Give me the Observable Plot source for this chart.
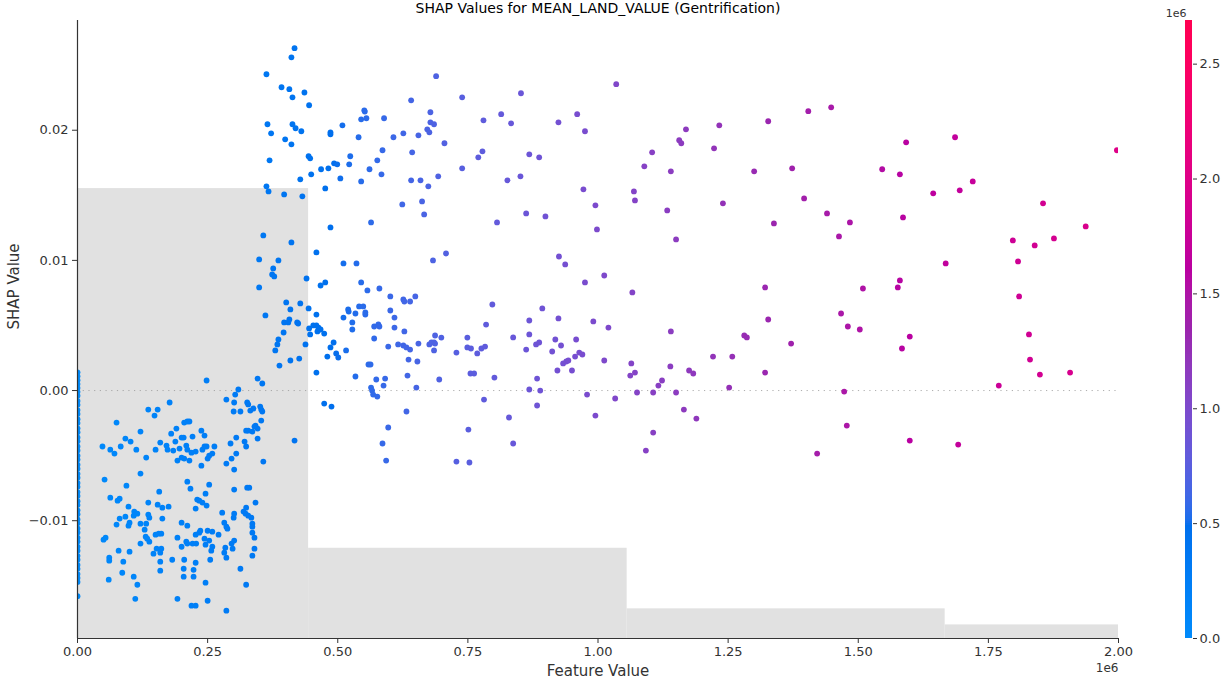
<!DOCTYPE html>
<html>
<head>
<meta charset="utf-8">
<script src="https://cdn.jsdelivr.net/npm/d3@7"></script>
<script src="https://cdn.jsdelivr.net/npm/@observablehq/plot@0.6"></script>
<style>
  body { margin: 0; background: #fff; }
  #chart { position: relative; width: 1223px; height: 679px; font-family: "DejaVu Sans", sans-serif; }
  #chart svg { position: absolute; top: 0; }
</style>
</head>
<body>
<div id="chart"></div>
<script>
// ---- text ----
const title = "SHAP Values for MEAN_LAND_VALUE (Gentrification)";
const xLabel = "Feature Value";
const yLabel = "SHAP Value";
const offsetLabel = "1e6";

// ---- axes ----
const xDomain = [0, 2000000];
const yDomain = [-0.01905, 0.02843];
const xTicks = [0, 250000, 500000, 750000, 1000000, 1250000, 1500000, 1750000, 2000000];
const yTicks = [-0.01, 0, 0.01, 0.02];
const colorMax = 2690000;
const colorTicks = [0, 500000, 1000000, 1500000, 2000000, 2500000];

// ---- histogram of the feature (background) ----
const binEdgesK = [-167, 444, 1056, 1667, 2278];
const binCounts = [364, 73, 24, 11];
const sampleCount = 500;

// ---- SHAP values of records with a land value of 0 ----
const shapAtZero = [0.0014, 0.0011, 0.0008, 0.0005, 0.0002, -0.0001, -0.0004, -0.0008, -0.0011, -0.0015,
  -0.0018, -0.0022, -0.0025, -0.0029, -0.0032, -0.0036, -0.0039, -0.0043, -0.0046, -0.005,
  -0.0053, -0.0057, -0.006, -0.0064, -0.0067, -0.0071, -0.0074, -0.0078, -0.0081, -0.0085,
  -0.0088, -0.0092, -0.0095, -0.0099, -0.0102, -0.0106, -0.0109, -0.0113, -0.0116, -0.012,
  -0.0123, -0.0127, -0.013, -0.0134, -0.0137, -0.0141, -0.0144, -0.0147, -0.0158];

// ---- [mean land value in thousands, SHAP value] ----
const lowValueNegative = [
  [326,-0.00092],[328,-0.00107],[332,-0.00154],[338,-0.00138],[351,-0.00123],[353,-0.00146],[355,-0.00161],[313,-0.00161],[353,-0.00231],[328,-0.00308],
  [336,-0.00315],[340,-0.00277],[346,-0.00292],[346,-0.00369],[321,-0.00392],[324,-0.0043],[417,-0.00384],[357,-0.00546],
  [248,0.00077],[177,-0.00092],[136,-0.00146],[154,-0.00146],[148,-0.00192],[75,-0.00246],[121,-0.00315],[48,-0.0043],[63,-0.00454],[71,-0.00484],
  [83,-0.0043],[92,-0.00369],[102,-0.00392],[113,-0.00454],[132,-0.00515],[150,-0.00454],[159,-0.004],[171,-0.00423],[173,-0.00454],[180,-0.00331],
  [190,-0.00292],[188,-0.00392],[184,-0.00461],[192,-0.00538],[196,-0.00446],[200,-0.00515],[200,-0.00361],[204,-0.00361],[205,-0.00246],[211,-0.00238],
  [215,-0.00238],[209,-0.00423],[211,-0.00454],[205,-0.00523],[215,-0.00538],[219,-0.00477],[227,-0.00469],[221,-0.00354],[238,-0.00308],[244,-0.00346],
  [240,-0.00454],[244,-0.0043],[248,-0.0043],[250,-0.00523],[253,-0.005],[259,-0.00484],[263,-0.0043],[238,-0.00577],[286,-0.00069],[303,-0.00031],
  [309,0.00008],[301,-0.00092],[300,-0.00161],[294,-0.00407],[305,-0.00361],[286,-0.00561],[296,-0.00523],[305,-0.00484],[301,-0.00607],[324,-0.00308],
  [342,-0.00269],
  [52,-0.00684],[94,-0.00731],[63,-0.00823],[77,-0.00846],[81,-0.00831],[121,-0.00638],[157,-0.00777],[98,-0.00892],[109,-0.0093],[108,-0.00961],
  [115,-0.00946],[92,-0.00969],[100,-0.01015],[98,-0.01038],[81,-0.00984],[75,-0.0103],[121,-0.01023],[132,-0.01023],[129,-0.01069],[136,-0.00861],
  [136,-0.00953],[138,-0.00977],[154,-0.00877],[163,-0.009],[175,-0.00892],[163,-0.00984],[156,-0.011],[121,-0.01176],[131,-0.01123],[134,-0.01138],
  [138,-0.01161],[150,-0.01107],[161,-0.011],[152,-0.01215],[161,-0.01215],[159,-0.01246],[146,-0.01253],[159,-0.01315],[159,-0.01384],[182,-0.013],
  [50,-0.01146],[54,-0.0113],[79,-0.0123],[61,-0.01284],[61,-0.01307],[88,-0.01315],[86,-0.014],[60,-0.01453],[100,-0.01238],[108,-0.0143],
  [115,-0.01492],[111,-0.016],[192,-0.016],[200,-0.01015],[211,-0.01038],[192,-0.0113],[200,-0.012],[209,-0.01161],[211,-0.01176],[221,-0.01176],
  [228,-0.01176],[205,-0.013],[204,-0.01369],[204,-0.0143],[223,-0.01377],[223,-0.0143],[227,-0.01323],[219,-0.01653],[227,-0.01653],[250,-0.01615],
  [246,-0.01476],[234,-0.01092],[236,-0.01077],[244,-0.01138],[250,-0.01077],[259,-0.01084],[253,-0.01153],[259,-0.012],[257,-0.0123],[246,-0.01184],
  [255,-0.013],[227,-0.01107],[246,-0.00792],[253,-0.00723],[211,-0.007],[217,-0.00754],[227,-0.00907],[230,-0.00838],[234,-0.00846],[240,-0.00861],
  [248,-0.00884],[271,-0.01107],[278,-0.00938],[282,-0.01015],[286,-0.01046],[288,-0.01061],[301,-0.00946],[300,-0.00977],[284,-0.01207],[282,-0.01246],
  [286,-0.01284],[296,-0.01176],[301,-0.01153],[298,-0.01215],[313,-0.01369],[286,-0.01691],[324,-0.01492],[319,-0.0093],[323,-0.00946],[328,-0.00961],
  [324,-0.009],[334,-0.00977],[336,-0.01023],[336,-0.01046],[336,-0.01092],[340,-0.0113],[340,-0.01215],[336,-0.01269],[342,-0.00861],[301,-0.00761],
  [326,-0.00746],[330,-0.00746]
];

const midValueUpper = [
  [417,0.0263],[411,0.0256],[363,0.0243],[689,0.02415],[392,0.0233],[407,0.02315],[436,0.0229],[413,0.02253],[739,0.02253],[641,0.0223],
  [445,0.02192],[551,0.02153],[552,0.02143],[678,0.02138],[545,0.02084],[555,0.02092],[589,0.02092],[678,0.02061],[685,0.02046],[780,0.02076],
  [365,0.02046],[413,0.02046],[419,0.02015],[430,0.01992],[509,0.02038],[486,0.01984],[486,0.01969],[672,0.02007],[676,0.01984],[626,0.01976],
  [655,0.01961],[607,0.01946],[540,0.01946],[372,0.01976],[399,0.0193],[411,0.01892],[705,0.019],[643,0.0183],[586,0.01846],[778,0.01838],
  [770,0.01792],[369,0.01769],[444,0.018],[447,0.01784],[524,0.018],[576,0.01769],[493,0.01746],[499,0.01738],[522,0.01738],[482,0.01707],
  [468,0.017],[561,0.017],[739,0.01707],[449,0.01661],[584,0.01661],[693,0.01646],[428,0.01623],[505,0.0163],[641,0.01615],[659,0.01615],
  [545,0.01607],[674,0.01569],[363,0.01569],[367,0.0153],[397,0.01507],[432,0.01492],[476,0.01553],[662,0.01453],[624,0.0143],[666,0.01353],
  [564,0.01292],[486,0.01253],[357,0.01192],[411,0.01138],[459,0.01061],[708,0.01053],[349,0.01007],[386,0.01],[683,0.01],[511,0.00977],
  [536,0.00977],[376,0.00938]
];

const midValueLower = [
  [374,0.00892],[378,0.00877],[349,0.00792],[440,0.00861],[467,0.00807],[476,0.00831],[545,0.00831],[580,0.00784],[557,0.00769],[601,0.00723],
  [626,0.007],[628,0.00684],[639,0.00684],[649,0.00723],[401,0.00677],[428,0.00669],[409,0.00623],[444,0.00631],[361,0.00577],[459,0.00584],
  [520,0.00623],[521,0.00607],[541,0.00646],[549,0.00646],[534,0.00592],[553,0.006],[553,0.00584],[511,0.00561],[601,0.00615],[609,0.00561],
  [407,0.00546],[397,0.00523],[405,0.00523],[422,0.00523],[424,0.00515],[528,0.00523],[570,0.00492],[578,0.00508],[580,0.00492],[609,0.00484],
  [528,0.00469],[445,0.00477],[453,0.005],[459,0.005],[463,0.00484],[467,0.00469],[461,0.00454],[447,0.00431],[474,0.00438],[396,0.00446],
  [628,0.00454],[386,0.00392],[384,0.00354],[380,0.00308],[570,0.004],[492,0.00369],[486,0.00331],[438,0.00354],[597,0.00338],[616,0.00354],
  [626,0.00346],[632,0.00331],[639,0.00315],[655,0.00361],[676,0.00354],[680,0.00369],[685,0.00369],[687,0.00423],[687,0.00361],[699,0.00407],
  [685,0.00308],[516,0.00308],[497,0.00285],[501,0.00254],[480,0.00261],[409,0.00231],[426,0.00246],[388,0.00192],[636,0.00238],[653,0.00223],
  [559,0.002],[563,0.002],[749,0.00407],[749,0.00331],[756,0.00323],[728,0.00292],[768,0.00285],[776,0.00323],[783,0.00338],[785,0.00507],
  [459,0.00138],[534,0.00108],[346,0.00092],[355,0.00054],[574,0.00085],[591,0.00092],[588,0.00038],[634,0.00115],[695,0.00085],[651,0.00023],
  [755,0.00131],[762,0.00131],[564,0.00023],[566,0.0],[568,-0.00031],[576,-0.00046],[781,-0.00069],[474,-0.001],[488,-0.00123],[632,-0.00161],
  [597,-0.00284],[586,-0.00407],[593,-0.00538],[751,-0.003],[728,-0.00546],[753,-0.00553]
];

const upperMidValue = [
  [1035,0.02354],[852,0.02284],[814,0.02123],[833,0.02053],[924,0.02061],[960,0.02123],[975,0.01992],[1169,0.02007],[1233,0.02038],[1327,0.02069],
  [1156,0.01923],[1160,0.019],[1104,0.0183],[1223,0.01861],[868,0.01815],[887,0.01792],[1089,0.01723],[1140,0.01684],[1300,0.01684],[1373,0.01707],
  [826,0.01615],[851,0.01646],[972,0.01546],[1069,0.0153],[1071,0.01461],[995,0.01423],[1133,0.01384],[1240,0.01438],[862,0.01361],[899,0.01338],
  [806,0.01292],[998,0.01238],[1338,0.01284],[1150,0.01161],[925,0.0103],[937,0.00969],[1012,0.00884],[975,0.00831],[1066,0.00754],[1321,0.00792],
  [1327,0.00546],[797,0.00661],[893,0.00631],[868,0.00538],[924,0.00554],[991,0.00531],[1020,0.00484],[1140,0.00454],[837,0.00408],[868,0.00431],
  [881,0.00354],[887,0.00369],[862,0.00315],[918,0.00392],[958,0.00392],[929,0.00346],[912,0.003],[964,0.00292],[970,0.00277],[956,0.00261],
  [933,0.00208],[939,0.00223],[943,0.00231],[922,0.00154],[950,0.00154],[1012,0.00231],[801,0.001],[868,0.00008],[889,0.0],[883,0.00092],
  [883,-0.00115],[979,-0.00031],[1033,-0.00061],[995,-0.00192],[829,-0.00207],[837,-0.00407],[1064,0.00208],[1062,0.00115],[1071,0.00138],[1075,-0.00015],
  [1106,-0.00015],[1116,0.00038],[1123,0.00077],[1150,-0.00015],[1139,0.00185],[1175,0.00154],[1183,0.00131],[1165,-0.00146],[1189,-0.00215],[1106,-0.00323],
  [1092,-0.00461],[1221,0.00261],[1258,0.00261],[1252,0.00023],[1281,0.00423],[1286,0.00408],[1321,0.00138],[1371,0.00361]
];

const highValue = [
  [1404,0.02146],[1448,0.02176],[1592,0.01907],[1686,0.01946],[1997,0.01846],[1546,0.017],[1580,0.01661],[1644,0.01515],[1695,0.01538],[1720,0.01607],
  [1396,0.01476],[1440,0.01361],[1484,0.01292],[1463,0.01184],[1586,0.0133],[1855,0.01438],[1937,0.01261],[1797,0.01153],[1839,0.01115],[1876,0.01169],
  [1807,0.00992],[1668,0.00977],[1580,0.00846],[1576,0.00792],[1509,0.00784],[1809,0.00723],[1467,0.00592],[1480,0.00492],[1503,0.00469],[1599,0.00415],
  [1584,0.00323],[1828,0.00431],[1830,0.00238],[1849,0.00123],[1907,0.00138],[1770,0.00038],[1473,-0.00008],[1478,-0.00269],[1599,-0.00384],[1692,-0.00415],
  [1421,-0.00484]
];

// ---- build tables ----
const fromPairs = pairs => pairs.map(([k, s]) => ({value: k * 1000, shap: s}));
const records = [
  ...shapAtZero.map(s => ({value: 0, shap: s})),
  ...fromPairs(lowValueNegative),
  ...fromPairs(midValueUpper),
  ...fromPairs(midValueLower),
  ...fromPairs(upperMidValue),
  ...fromPairs(highValue)
];

const bins = binCounts.map((count, i) => ({
  x1: binEdgesK[i] * 1000,
  x2: binEdgesK[i + 1] * 1000,
  top: yDomain[0] + (count / sampleCount) * (yDomain[1] - yDomain[0])
}));

// LCh (D65) -> sRGB, channels clipped to gamut
function lchToRgb(l, c, h) {
  const a = c * Math.cos(h), b = c * Math.sin(h);
  const fy = (l + 16) / 116, fx = fy + a / 500, fz = fy - b / 200;
  const finv = t => (t > 6 / 29 ? t * t * t : (t - 16 / 116) / 7.787);
  const X = 0.95047 * finv(fx), Y = finv(fy), Z = 1.08883 * finv(fz);
  const lin = [
    3.2404542 * X - 1.5371385 * Y - 0.4985314 * Z,
    -0.969266 * X + 1.8760108 * Y + 0.041556 * Z,
    0.0556434 * X - 0.2040259 * Y + 1.0572252 * Z
  ];
  const gam = v => (v > 0.0031308 ? 1.055 * Math.pow(v, 1 / 2.4) - 0.055 : 12.92 * v);
  const [r, g, bl] = lin.map(v => Math.round(255 * Math.min(1, Math.max(0, gam(v)))));
  return `rgb(${r},${g},${bl})`;
}

// blue -> purple -> red: lightness dips in the middle, hue sweeps through violet
const blueLch = [54, 70, 4.6588];
const midLightness = 40;
const redLch = [54, 90, 0.35470565 + 2 * Math.PI];
function redBlue(t) {
  const l = t < 0.5 ? blueLch[0] + (midLightness - blueLch[0]) * (t / 0.5)
                    : midLightness + (redLch[0] - midLightness) * ((t - 0.5) / 0.5);
  const c = blueLch[1] + (redLch[1] - blueLch[1]) * t;
  const h = blueLch[2] + (redLch[2] - blueLch[2]) * t;
  return lchToRgb(l, c, h);
}
const colorScale = {type: "linear", domain: [0, colorMax], interpolate: redBlue};

const axisColor = "#333333";
const font = "'DejaVu Sans', sans-serif";

const main = Plot.plot({
  width: 1223,
  height: 679,
  marginLeft: 77,
  marginRight: 105,
  marginTop: 20,
  marginBottom: 41,
  style: {fontFamily: font, fontSize: "13px", color: axisColor, background: "transparent", overflow: "visible"},
  x: {domain: xDomain},
  y: {domain: yDomain},
  color: colorScale,
  marks: [
    Plot.rect(bins, {x1: "x1", x2: "x2", y1: yDomain[0], y2: "top", fill: "#e1e1e1", clip: true}),
    Plot.ruleY([0], {stroke: "#999999", strokeWidth: 0.8, strokeDasharray: "1.2,4.5"}),
    Plot.dot(records, {x: "value", y: "shap", fill: "value", r: 2.9, clip: true}),
    Plot.axisX({ticks: xTicks, tickFormat: d => (d / 1e6).toFixed(2), tickSize: 5, tickPadding: 3, label: null, fontSize: 13}),
    Plot.axisY({ticks: yTicks, tickFormat: d3.format(".2f"), tickSize: 5, tickPadding: 4, label: null, fontSize: 13}),
    Plot.ruleX([xDomain[0]], {stroke: axisColor, strokeWidth: 1.2}),
    Plot.ruleY([yDomain[0]], {stroke: axisColor, strokeWidth: 1.2}),
    Plot.text([title], {frameAnchor: "top", dy: -17, fontSize: 14, fill: "#000000"}),
    Plot.text([xLabel], {frameAnchor: "bottom", dy: 37, fontSize: 15}),
    Plot.text([yLabel], {frameAnchor: "left", dx: -63, rotate: -90, fontSize: 15}),
    Plot.text([offsetLabel], {frameAnchor: "bottom-right", dy: 33, textAnchor: "end", fontSize: 12})
  ]
});
main.style.left = "0px";

// colour bar
const stepCount = 300;
const stops = d3.range(stepCount).map(i => ({
  y1: (i * colorMax) / stepCount,
  y2: ((i + 1) * colorMax) / stepCount,
  v: ((i + 0.5) * colorMax) / stepCount
}));

const bar = Plot.plot({
  width: 73,
  height: 679,
  marginLeft: 35,
  marginRight: 31,
  marginTop: 20,
  marginBottom: 41,
  style: {fontFamily: font, fontSize: "13px", color: axisColor, background: "transparent", overflow: "visible"},
  x: {domain: [0, 1], axis: null},
  y: {domain: [0, colorMax]},
  color: colorScale,
  marks: [
    Plot.rect(stops, {x1: 0, x2: 1, y1: "y1", y2: "y2", fill: "v", shapeRendering: "crispEdges"}),
    Plot.axisY({anchor: "right", ticks: colorTicks, tickFormat: d => (d / 1e6).toFixed(1), tickSize: 4, tickPadding: 3, label: null, fontSize: 13}),
    Plot.text([offsetLabel], {frameAnchor: "top-left", dx: 1, dy: -11, textAnchor: "end", fontSize: 11})
  ]
});
bar.style.left = "1150px";

const chart = document.getElementById("chart");
chart.appendChild(main);
chart.appendChild(bar);
</script>
</body>
</html>
